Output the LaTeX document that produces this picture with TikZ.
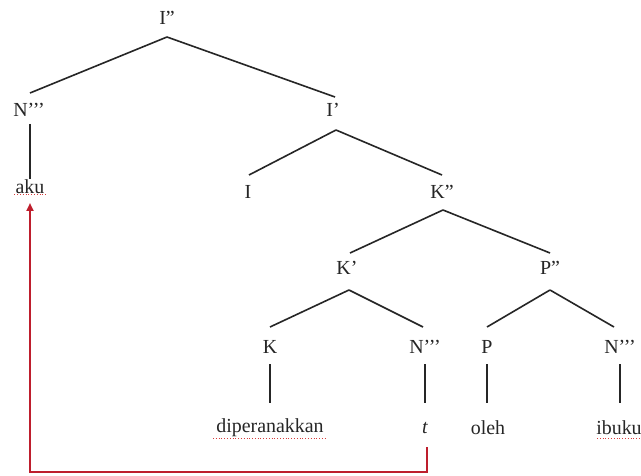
\documentclass[tikz,border=0pt]{standalone}
\usepackage{fontspec}
\setmainfont{Liberation Serif}
\usetikzlibrary{arrows.meta}
\definecolor{movered}{RGB}{190,30,45}
\definecolor{spellred}{RGB}{215,60,60}
\begin{document}
\begin{tikzpicture}[x=1bp,y=-1bp,
  lab/.style={inner sep=1bp,font=\fontsize{20}{22}\selectfont,text=black!85},
  edge/.style={line width=1.6bp,black!85},
  move/.style={line width=2bp,movered},
  spell/.style={spellred,line width=0.8bp,dotted}]
\useasboundingbox (0,0) rectangle (641,476);
\fill[white] (0,0) rectangle (641,476);
% nodes
\node[lab] (Ipp) at (167,18) {I”};
\node[lab] (Nppp1) at (29,110) {N’’’};
\node[lab] (Ip) at (333,110) {I’};
\node[lab] (aku) at (30,187) {aku};
\node[lab] (I) at (248,192) {I};
\node[lab] (Kpp) at (442,192) {K”};
\node[lab] (Kp) at (347,268) {K’};
\node[lab] (Ppp) at (550,268) {P”};
\node[lab] (K) at (270,347) {K};
\node[lab] (Nppp2) at (425,347) {N’’’};
\node[lab] (P) at (487,347) {P};
\node[lab] (Nppp3) at (620,347) {N’’’};
\node[lab] (dip) at (270,428) {diperanakkan};
\node[lab] (t) at (425,428) {\itshape t};
\node[lab] (oleh) at (488,428) {oleh};
\node[lab] (ibuku) at (619,428) {ibuku};
% coordinates for the movement line
\coordinate (c1) at (t.south -| 427,472);
\coordinate (c2) at (aku.south |- 0,472);
% edges
\draw[edge] (167,37) -- (30,93);
\draw[edge] (167,37) -- (335,97);
\draw[edge] (Nppp1.south) ++(1,6) -- (aku.north);
\draw[edge] (336,130) -- (249,175);
\draw[edge] (336,130) -- (442,175);
\draw[edge] (443,210) -- (350,253);
\draw[edge] (443,210) -- (550,253);
\draw[edge] (349,290) -- (270,327);
\draw[edge] (349,290) -- (423,327);
\draw[edge] (550,290) -- (487,327);
\draw[edge] (550,290) -- (614,327);
\draw[edge] (270,364) -- (270,403);
\draw[edge] (425,364) -- (425,403);
\draw[edge] (487,364) -- (487,403);
\draw[edge] (620,364) -- (620,403);
% movement arrow
\draw[move,-{Triangle[length=8bp,width=7bp]}] (427,447) -- (427,472) -- (30,472) -- (30,203);
% spell-check underlines
\draw[spell] (aku.south west) ++(0,-1) -- ++(33,0);
\draw[spell] (213,438) -- (327,438);
\draw[spell] (597,438) -- (641,438);
\end{tikzpicture}
\end{document}
